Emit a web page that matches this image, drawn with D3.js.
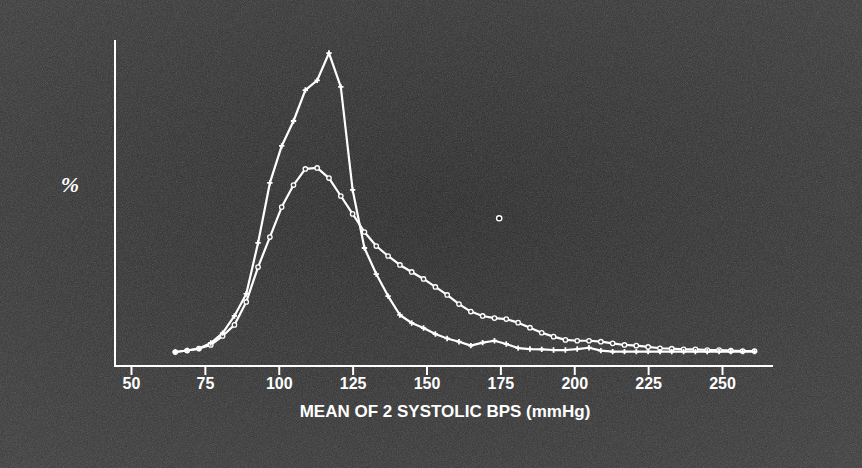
<!DOCTYPE html>
<meta charset="utf-8">
<head>
<style>
  body { margin: 0; background: #2b2b2b; }
  .curve { fill: none; stroke: #fff; stroke-width: 2.2px; stroke-linejoin: round; }
  .axis-line { stroke: #fff; stroke-width: 2px; }
  .tick-label { fill: #fff; font-family: "Liberation Sans", Arial, sans-serif; font-weight: bold; font-size: 16px; }
</style>
</head>
<body>
<script src="https://d3js.org/d3.v7.min.js"></script>
<script>
// mean systolic BP bins (mmHg)
var bp = [65, 69, 73, 77, 81, 85, 89, 93, 97, 101, 105, 109, 113, 117, 121, 125, 129, 133, 137, 141,
          145, 149, 153, 157, 161, 165, 169, 173, 177, 181, 185, 189, 193, 197, 201, 205, 209, 213, 217, 221,
          225, 229, 233, 237, 241, 245, 249, 253, 257, 261];

// narrow, tall distribution (% of subjects)
var narrow = [0.86, 0.95, 1.07, 1.41, 2.02, 3.07, 4.42, 7.55, 11.23, 13.50, 15.03, 16.93, 17.52, 19.20, 17.12, 10.80, 7.24, 5.64, 4.29, 3.13,
              2.64, 2.33, 1.96, 1.69, 1.49, 1.25, 1.43, 1.55, 1.35, 1.10, 1.04, 1.02, 0.98, 0.98, 1.04, 1.12, 0.94, 0.88, 0.88, 0.88,
              0.88, 0.88, 0.88, 0.88, 0.88, 0.88, 0.88, 0.88, 0.88, 0.88];

// wide, skewed distribution (% of subjects)
var wide = [0.86, 0.95, 1.07, 1.29, 1.84, 2.52, 3.93, 6.07, 7.91, 9.75, 11.10, 12.09, 12.15, 11.53, 10.43, 9.33, 8.22, 7.36, 6.75, 6.20,
            5.77, 5.34, 4.85, 4.36, 3.80, 3.34, 3.07, 2.94, 2.88, 2.66, 2.35, 2.04, 1.80, 1.60, 1.55, 1.55, 1.49, 1.39, 1.29, 1.25,
            1.17, 1.09, 1.06, 1.02, 1.02, 0.98, 0.98, 0.94, 0.92, 0.92];

// lone open circle
var lonePoint = [{ bp: 174.6, pct: 9.06 }];

var xTicks = [50, 75, 100, 125, 150, 175, 200, 225, 250];

var W = 862, H = 468;
var frame = { left: 115, right: 773, top: 40, bottom: 366 };

var x = d3.scaleLinear().domain([50, 250]).range([131, 722]);
var y = d3.scaleLinear().domain([0, 20]).range([frame.bottom, frame.top]);

var svg = d3.select("body").append("svg")
    .attr("width", W)
    .attr("height", H);

// grainy photographic background
var defs = svg.append("defs");
var grain = defs.append("filter").attr("id", "grain").attr("x", 0).attr("y", 0).attr("width", "100%").attr("height", "100%");
grain.append("feTurbulence").attr("type", "fractalNoise").attr("baseFrequency", 1.2).attr("numOctaves", 1).attr("seed", 3);
grain.append("feColorMatrix").attr("type", "saturate").attr("values", 0);
var shade = defs.append("radialGradient").attr("id", "shade").attr("cx", "50%").attr("cy", "45%").attr("r", "75%");
shade.append("stop").attr("offset", "0%").attr("stop-color", "#242424");
shade.append("stop").attr("offset", "100%").attr("stop-color", "#383838");

svg.append("rect").attr("width", W).attr("height", H).attr("fill", "url(#shade)");
svg.append("rect").attr("width", W).attr("height", H)
    .attr("filter", "url(#grain)").attr("opacity", 0.3);

// axes
svg.append("line").attr("class", "axis-line")
    .attr("x1", frame.left).attr("x2", frame.left)
    .attr("y1", y(20)).attr("y2", y(0) + 1);
svg.append("line").attr("class", "axis-line")
    .attr("x1", frame.left - 1).attr("x2", frame.right)
    .attr("y1", y(0)).attr("y2", y(0));

var xAxis = svg.append("g")
    .attr("transform", "translate(0," + y(0) + ")")
    .call(d3.axisBottom(x).tickValues(xTicks).tickSize(9).tickSizeOuter(0).tickPadding(3));
xAxis.select(".domain").remove();
xAxis.selectAll(".tick line").attr("stroke", "#fff").attr("stroke-width", 2);
xAxis.selectAll(".tick text").attr("class", "tick-label").attr("fill", "#fff");

svg.append("text")
    .attr("x", 445).attr("y", 417)
    .attr("text-anchor", "middle")
    .attr("fill", "#fff")
    .style("font-family", "'Liberation Sans', Arial, sans-serif")
    .style("font-weight", "bold")
    .style("font-size", "17px")
    .text("MEAN OF 2 SYSTOLIC BPS (mmHg)");

svg.append("text")
    .attr("x", 70).attr("y", 192)
    .attr("text-anchor", "middle")
    .attr("fill", "#fff")
    .style("font-family", "'Liberation Serif', serif")
    .style("font-weight", "bold")
    .style("font-style", "italic")
    .style("font-size", "22px")
    .text("%");

// curves
var line = d3.line()
    .x(function(d) { return x(d[0]); })
    .y(function(d) { return y(d[1]); });

var narrowData = bp.map(function(b, i) { return [b, narrow[i]]; });
var wideData = bp.map(function(b, i) { return [b, wide[i]]; });

svg.append("path").datum(wideData).attr("class", "curve").attr("d", line);
svg.append("path").datum(narrowData).attr("class", "curve").attr("d", line);

svg.selectAll(".wide-pt").data(wideData).enter().append("circle")
    .attr("class", "wide-pt")
    .attr("cx", function(d) { return x(d[0]); })
    .attr("cy", function(d) { return y(d[1]); })
    .attr("r", 2.2)
    .attr("fill", "#444")
    .attr("stroke", "#fff")
    .attr("stroke-width", 1.3);

svg.selectAll(".narrow-pt").data(narrowData).enter().append("path")
    .attr("class", "narrow-pt")
    .attr("transform", function(d) { return "translate(" + x(d[0]) + "," + y(d[1]) + ")"; })
    .attr("d", d3.symbol().type(d3.symbolCross).size(16))
    .attr("fill", "#fff");

svg.selectAll(".lone").data(lonePoint).enter().append("circle")
    .attr("class", "lone")
    .attr("cx", function(d) { return x(d.bp); })
    .attr("cy", function(d) { return y(d.pct); })
    .attr("r", 2.6)
    .attr("fill", "#222")
    .attr("stroke", "#fff")
    .attr("stroke-width", 1.4);
</script>
</body>
